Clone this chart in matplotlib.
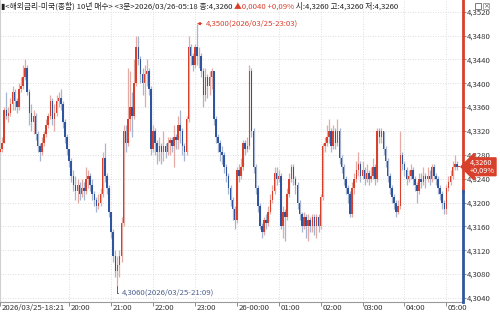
import matplotlib
matplotlib.use("Agg")
import matplotlib.pyplot as plt
from matplotlib.patches import Rectangle
from matplotlib.transforms import ScaledTranslation
import numpy as np

# 3-minute bars, 2026/03/25 18:21 -> 2026/03/26 05:18
opens = [
    4.3285, 4.3290, 4.3300, 4.3355, 4.3345, 4.3350, 4.3365, 4.3385, 4.3370, 4.3360,
    4.3390, 4.3395, 4.3410, 4.3425, 4.3385, 4.3350, 4.3335, 4.3345, 4.3315, 4.3295,
    4.3285, 4.3300, 4.3315, 4.3330, 4.3345, 4.3370, 4.3340, 4.3350, 4.3370, 4.3375,
    4.3365, 4.3335, 4.3310, 4.3290, 4.3270, 4.3245, 4.3230, 4.3220, 4.3230, 4.3215,
    4.3225, 4.3220, 4.3240, 4.3245, 4.3230, 4.3215, 4.3205, 4.3195, 4.3200, 4.3215,
    4.3275, 4.3245, 4.3225, 4.3185, 4.3150, 4.3110, 4.3085, 4.3095, 4.3110, 4.3165,
    4.3320, 4.3300, 4.3340, 4.3360, 4.3345, 4.3400, 4.3460, 4.3440, 4.3415, 4.3400,
    4.3415, 4.3420, 4.3390, 4.3290, 4.3320, 4.3300, 4.3285, 4.3295, 4.3285, 4.3295,
    4.3285, 4.3300, 4.3305, 4.3295, 4.3310, 4.3305, 4.3330, 4.3320, 4.3295, 4.3285,
    4.3340, 4.3460, 4.3445, 4.3430, 4.3460, 4.3445, 4.3445, 4.3420, 4.3380, 4.3410,
    4.3395, 4.3410, 4.3420, 4.3340, 4.3310, 4.3300, 4.3285, 4.3280, 4.3260, 4.3245,
    4.3225, 4.3205, 4.3190, 4.3170, 4.3255, 4.3245, 4.3260, 4.3300, 4.3290, 4.3295,
    4.3420, 4.3320, 4.3260, 4.3225, 4.3195, 4.3160, 4.3150, 4.3170, 4.3165, 4.3185,
    4.3205, 4.3220, 4.3250, 4.3240, 4.3245, 4.3160, 4.3185, 4.3175, 4.3215, 4.3240,
    4.3260, 4.3240, 4.3230, 4.3200, 4.3180, 4.3160, 4.3175, 4.3160, 4.3170, 4.3160,
    4.3175, 4.3160, 4.3175, 4.3160, 4.3210, 4.3295, 4.3300, 4.3310, 4.3320, 4.3295,
    4.3320, 4.3300, 4.3320, 4.3275, 4.3260, 4.3240, 4.3225, 4.3215, 4.3180, 4.3225,
    4.3240, 4.3255, 4.3265, 4.3245, 4.3255, 4.3240, 4.3250, 4.3240, 4.3245, 4.3260,
    4.3240, 4.3320, 4.3310, 4.3320, 4.3290, 4.3270, 4.3245, 4.3225, 4.3210, 4.3200,
    4.3185, 4.3195, 4.3280, 4.3265, 4.3255, 4.3240, 4.3245, 4.3255, 4.3240, 4.3230,
    4.3220, 4.3240, 4.3235, 4.3245, 4.3240, 4.3245, 4.3240, 4.3260, 4.3245, 4.3240,
    4.3225, 4.3215, 4.3200, 4.3190, 4.3225, 4.3235, 4.3245, 4.3260, 4.3265, 4.3260,
]
closes = [
    4.3290, 4.3300, 4.3355, 4.3345, 4.3350, 4.3365, 4.3385, 4.3370, 4.3360, 4.3390,
    4.3395, 4.3410, 4.3425, 4.3385, 4.3350, 4.3335, 4.3345, 4.3315, 4.3295, 4.3285,
    4.3300, 4.3315, 4.3330, 4.3345, 4.3370, 4.3340, 4.3350, 4.3370, 4.3375, 4.3365,
    4.3335, 4.3310, 4.3290, 4.3270, 4.3245, 4.3230, 4.3220, 4.3230, 4.3215, 4.3225,
    4.3220, 4.3240, 4.3245, 4.3230, 4.3215, 4.3205, 4.3195, 4.3200, 4.3215, 4.3275,
    4.3245, 4.3225, 4.3185, 4.3150, 4.3110, 4.3085, 4.3095, 4.3110, 4.3165, 4.3320,
    4.3300, 4.3340, 4.3360, 4.3345, 4.3400, 4.3460, 4.3440, 4.3415, 4.3400, 4.3415,
    4.3420, 4.3390, 4.3290, 4.3320, 4.3300, 4.3285, 4.3295, 4.3285, 4.3295, 4.3285,
    4.3300, 4.3305, 4.3295, 4.3310, 4.3305, 4.3330, 4.3320, 4.3295, 4.3285, 4.3340,
    4.3460, 4.3445, 4.3430, 4.3460, 4.3445, 4.3445, 4.3420, 4.3380, 4.3410, 4.3395,
    4.3410, 4.3420, 4.3340, 4.3310, 4.3300, 4.3285, 4.3280, 4.3260, 4.3245, 4.3225,
    4.3205, 4.3190, 4.3170, 4.3255, 4.3245, 4.3260, 4.3300, 4.3290, 4.3295, 4.3420,
    4.3320, 4.3260, 4.3225, 4.3195, 4.3160, 4.3150, 4.3170, 4.3165, 4.3185, 4.3205,
    4.3220, 4.3250, 4.3240, 4.3245, 4.3160, 4.3185, 4.3175, 4.3215, 4.3240, 4.3260,
    4.3240, 4.3230, 4.3200, 4.3180, 4.3160, 4.3175, 4.3160, 4.3170, 4.3160, 4.3175,
    4.3160, 4.3175, 4.3160, 4.3210, 4.3295, 4.3300, 4.3310, 4.3320, 4.3295, 4.3320,
    4.3300, 4.3320, 4.3275, 4.3260, 4.3240, 4.3225, 4.3215, 4.3180, 4.3225, 4.3240,
    4.3255, 4.3265, 4.3245, 4.3255, 4.3240, 4.3250, 4.3240, 4.3245, 4.3260, 4.3240,
    4.3320, 4.3310, 4.3320, 4.3290, 4.3270, 4.3245, 4.3225, 4.3210, 4.3200, 4.3185,
    4.3195, 4.3280, 4.3265, 4.3255, 4.3240, 4.3245, 4.3255, 4.3240, 4.3230, 4.3220,
    4.3240, 4.3235, 4.3245, 4.3240, 4.3245, 4.3240, 4.3260, 4.3245, 4.3240, 4.3225,
    4.3215, 4.3200, 4.3190, 4.3225, 4.3235, 4.3245, 4.3260, 4.3265, 4.3260, 4.3260,
]
highs = [
    4.3300, 4.3310, 4.3360, 4.3385, 4.3360, 4.3375, 4.3395, 4.3390, 4.3375, 4.3400,
    4.3410, 4.3430, 4.3440, 4.3430, 4.3390, 4.3365, 4.3355, 4.3350, 4.3320, 4.3300,
    4.3310, 4.3320, 4.3340, 4.3350, 4.3380, 4.3375, 4.3365, 4.3380, 4.3385, 4.3390,
    4.3370, 4.3340, 4.3315, 4.3290, 4.3275, 4.3255, 4.3245, 4.3240, 4.3235, 4.3240,
    4.3235, 4.3260, 4.3255, 4.3250, 4.3240, 4.3220, 4.3210, 4.3215, 4.3225, 4.3285,
    4.3300, 4.3250, 4.3230, 4.3185, 4.3155, 4.3120, 4.3110, 4.3120, 4.3175, 4.3330,
    4.3330, 4.3425, 4.3420, 4.3385, 4.3440, 4.3480, 4.3480, 4.3445, 4.3425, 4.3430,
    4.3440, 4.3425, 4.3395, 4.3330, 4.3325, 4.3305, 4.3310, 4.3300, 4.3320, 4.3300,
    4.3310, 4.3310, 4.3310, 4.3330, 4.3315, 4.3345, 4.3355, 4.3325, 4.3300, 4.3345,
    4.3480, 4.3465, 4.3450, 4.3465, 4.3500, 4.3460, 4.3450, 4.3425, 4.3425, 4.3415,
    4.3420, 4.3425, 4.3420, 4.3345, 4.3315, 4.3305, 4.3295, 4.3285, 4.3265, 4.3250,
    4.3230, 4.3210, 4.3195, 4.3260, 4.3265, 4.3275, 4.3305, 4.3305, 4.3310, 4.3430,
    4.3425, 4.3325, 4.3265, 4.3230, 4.3200, 4.3165, 4.3175, 4.3180, 4.3195, 4.3215,
    4.3230, 4.3260, 4.3260, 4.3255, 4.3250, 4.3195, 4.3190, 4.3225, 4.3250, 4.3265,
    4.3265, 4.3245, 4.3235, 4.3205, 4.3185, 4.3185, 4.3180, 4.3180, 4.3175, 4.3180,
    4.3180, 4.3180, 4.3180, 4.3215, 4.3300, 4.3310, 4.3330, 4.3340, 4.3325, 4.3330,
    4.3325, 4.3340, 4.3325, 4.3280, 4.3265, 4.3245, 4.3230, 4.3220, 4.3235, 4.3250,
    4.3270, 4.3285, 4.3270, 4.3270, 4.3260, 4.3265, 4.3255, 4.3260, 4.3275, 4.3265,
    4.3325, 4.3325, 4.3325, 4.3320, 4.3295, 4.3275, 4.3250, 4.3230, 4.3215, 4.3205,
    4.3205, 4.3320, 4.3285, 4.3270, 4.3260, 4.3255, 4.3265, 4.3260, 4.3245, 4.3235,
    4.3250, 4.3250, 4.3260, 4.3250, 4.3260, 4.3255, 4.3265, 4.3265, 4.3250, 4.3245,
    4.3230, 4.3220, 4.3205, 4.3230, 4.3245, 4.3255, 4.3270, 4.3280, 4.3270, 4.3260,
]
lows = [
    4.3280, 4.3285, 4.3300, 4.3340, 4.3335, 4.3345, 4.3355, 4.3355, 4.3350, 4.3355,
    4.3385, 4.3390, 4.3405, 4.3380, 4.3330, 4.3320, 4.3315, 4.3305, 4.3285, 4.3270,
    4.3280, 4.3295, 4.3310, 4.3325, 4.3340, 4.3330, 4.3320, 4.3345, 4.3360, 4.3355,
    4.3325, 4.3300, 4.3280, 4.3260, 4.3235, 4.3220, 4.3205, 4.3200, 4.3205, 4.3210,
    4.3205, 4.3215, 4.3225, 4.3220, 4.3205, 4.3195, 4.3185, 4.3190, 4.3195, 4.3210,
    4.3235, 4.3215, 4.3175, 4.3140, 4.3100, 4.3075, 4.3060, 4.3075, 4.3100, 4.3160,
    4.3285, 4.3295, 4.3320, 4.3310, 4.3340, 4.3395, 4.3430, 4.3400, 4.3380, 4.3360,
    4.3395, 4.3380, 4.3280, 4.3285, 4.3280, 4.3265, 4.3270, 4.3265, 4.3270, 4.3275,
    4.3280, 4.3280, 4.3285, 4.3260, 4.3290, 4.3290, 4.3300, 4.3280, 4.3270, 4.3280,
    4.3335, 4.3430, 4.3420, 4.3425, 4.3430, 4.3425, 4.3410, 4.3360, 4.3370, 4.3375,
    4.3380, 4.3390, 4.3330, 4.3300, 4.3285, 4.3270, 4.3265, 4.3250, 4.3235, 4.3215,
    4.3195, 4.3170, 4.3155, 4.3165, 4.3235, 4.3240, 4.3255, 4.3280, 4.3285, 4.3290,
    4.3310, 4.3250, 4.3215, 4.3185, 4.3155, 4.3140, 4.3145, 4.3155, 4.3160, 4.3180,
    4.3200, 4.3215, 4.3230, 4.3235, 4.3155, 4.3140, 4.3135, 4.3170, 4.3210, 4.3235,
    4.3230, 4.3215, 4.3190, 4.3170, 4.3150, 4.3155, 4.3140, 4.3135, 4.3150, 4.3150,
    4.3145, 4.3140, 4.3150, 4.3155, 4.3205, 4.3285, 4.3295, 4.3300, 4.3285, 4.3290,
    4.3290, 4.3295, 4.3265, 4.3250, 4.3230, 4.3215, 4.3200, 4.3175, 4.3175, 4.3215,
    4.3235, 4.3245, 4.3235, 4.3240, 4.3230, 4.3235, 4.3230, 4.3235, 4.3240, 4.3230,
    4.3235, 4.3300, 4.3300, 4.3280, 4.3260, 4.3235, 4.3215, 4.3200, 4.3190, 4.3175,
    4.3180, 4.3190, 4.3255, 4.3245, 4.3230, 4.3235, 4.3240, 4.3230, 4.3220, 4.3200,
    4.3215, 4.3225, 4.3230, 4.3225, 4.3235, 4.3230, 4.3235, 4.3240, 4.3230, 4.3215,
    4.3205, 4.3190, 4.3180, 4.3180, 4.3220, 4.3230, 4.3240, 4.3255, 4.3255, 4.3260,
]

tick_bars = [0, 33, 53, 73, 93, 113, 133, 153, 173, 193, 213]
tick_labels = ["2026/03/25-18:21", "20:00", "21:00", "22:00", "23:00", "26-00:00",
               "01:00", "02:00", "03:00", "04:00", "05:00"]
y_ticks = [4.304, 4.308, 4.312, 4.316, 4.320, 4.324, 4.328,
           4.332, 4.336, 4.340, 4.344, 4.348, 4.352]

prev_close = 4.3220
last_price = 4.3260
max_bar, max_price, max_time = 94, 4.3500, "2026/03/25-23:03"
min_bar, min_price, min_time = 56, 4.3060, "2026/03/25-21:09"

UP = "#d8402c"
DOWN = "#2f55a0"
UP_WICK = "#e6aaa4"
DOWN_WICK = "#a6b6d2"
NARROW = ["Liberation Sans Narrow", "Noto Sans CJK KR", "DejaVu Sans"]
FS = 5.6

def comma(v):
    return f"{v:.4f}".replace(".", ",")

o = np.array(opens)
c = np.array(closes)
h = np.array(highs)
l = np.array(lows)
x = np.arange(len(c))
up = c >= o

fig = plt.figure(figsize=(5, 3.14), dpi=100)
ax = fig.add_axes([0, 12 / 314, 463 / 500, 302 / 314])

ax.vlines(x[up], l[up], h[up], color=UP_WICK, lw=0.9, zorder=2)
ax.vlines(x[~up], l[~up], h[~up], color=DOWN_WICK, lw=0.9, zorder=2)
body_lo = np.minimum(o, c)
body_h = np.maximum(np.abs(c - o), 0.00012)
ax.bar(x[up], body_h[up], bottom=body_lo[up], width=0.72, color=UP, lw=0, zorder=3)
ax.bar(x[~up], body_h[~up], bottom=body_lo[~up], width=0.72, color=DOWN, lw=0, zorder=3)

ax.set_xlim(0.46, 220.93)
ax.set_ylim(4.30333, 4.35396)

ax.set_xticks(tick_bars)
ax.set_xticklabels(tick_labels, family=NARROW, fontsize=FS, ha="left")
ax.set_yticks(y_ticks)
ax.set_yticklabels([comma(v) for v in y_ticks], family=NARROW, fontsize=FS)
ax.yaxis.tick_right()
ax.tick_params(axis="x", length=3, width=0.6, color="#777777", pad=-1.5, labelcolor="#333333")
ax.tick_params(axis="y", length=2, width=0.6, color="#777777", pad=1, labelcolor="#333333")
shift = ScaledTranslation(1.5 / 100, 0, fig.dpi_scale_trans)
for lab in ax.get_xticklabels():
    lab.set_transform(lab.get_transform() + shift)

ax.grid(True, color="#d4d4d4", linestyle=(0, (1, 2)), lw=0.6, zorder=0)
for side in ["top", "right"]:
    ax.spines[side].set_visible(False)
ax.spines["bottom"].set_color("#9a9a9a")
ax.spines["bottom"].set_linewidth(0.8)
ax.spines["left"].set_color("#cfcfcf")
ax.spines["left"].set_linewidth(0.8)

# right axis line: red above previous close, blue below
yt = ax.get_yaxis_transform()
ax.plot([1, 1], [prev_close, 4.35396], color=UP, lw=2, transform=yt, clip_on=False, zorder=5)
ax.plot([1, 1], [4.30333, prev_close], color=DOWN, lw=2, transform=yt, clip_on=False, zorder=5)

# current price tag
ax.annotate(comma(last_price) + "\n+0,09%", xy=(1, last_price), xycoords=yt,
            xytext=(7, 0), textcoords="offset pixels", va="center", ha="left",
            family=NARROW, fontsize=5.3, color="white", linespacing=1.0,
            bbox=dict(boxstyle="larrow,pad=0.12", fc=UP, ec=UP), zorder=6,
            annotation_clip=False)

# max / min markers
ax.annotate(comma(max_price) + f"({max_time})", xy=(max_bar, max_price),
            xytext=(9, 0), textcoords="offset pixels", va="center", ha="left",
            family=NARROW, fontsize=FS, color=UP,
            arrowprops=dict(arrowstyle="-|>,head_length=0.3,head_width=0.15", color=UP,
                            lw=0.7, relpos=(0, 0.5), shrinkA=1, shrinkB=0))
ax.annotate(comma(min_price) + f"({min_time})", xy=(min_bar, min_price),
            xytext=(5, -7), textcoords="offset pixels", va="center", ha="left",
            family=NARROW, fontsize=FS, color="#4a5f8e",
            arrowprops=dict(arrowstyle="-", color="#4a5f8e", lw=0.7, relpos=(0, 0.5),
                            shrinkA=1, shrinkB=0,
                            connectionstyle="angle,angleA=0,angleB=90,rad=0"))

# header line
t1 = fig.text(1 / 500, 1 - 6 / 314, "▮<해외금리-미국(종합) 10년 매수> <3분>2026/03/26-05:18 종:4,3260 ",
              family=NARROW, fontsize=FS, color="#222222", va="center", ha="left")
t2 = ax.annotate("▲0,0040 +0,09%", xy=(1, 0), xycoords=t1, va="bottom", ha="left",
                 family=NARROW, fontsize=FS, color=UP, annotation_clip=False)
ax.annotate(" 시:4,3260 고:4,3260 저:4,3260", xy=(1, 0), xycoords=t2, va="bottom", ha="left",
            family=NARROW, fontsize=FS, color="#222222", annotation_clip=False)

# small window buttons top right
fig.patches.append(Rectangle((475 / 500, 1 - 9 / 314), 6 / 500, 6 / 314, fill=False,
                             ec="#666666", lw=0.6, transform=fig.transFigure))
fig.patches.append(Rectangle((483 / 500, 1 - 9 / 314), 6 / 500, 6 / 314, fill=False,
                             ec="#999999", lw=0.6, transform=fig.transFigure))
fig.text(486 / 500, 1 - 6 / 314, "×", fontsize=5, color="#666666", ha="center", va="center")

fig.savefig("out.png", dpi=100)
